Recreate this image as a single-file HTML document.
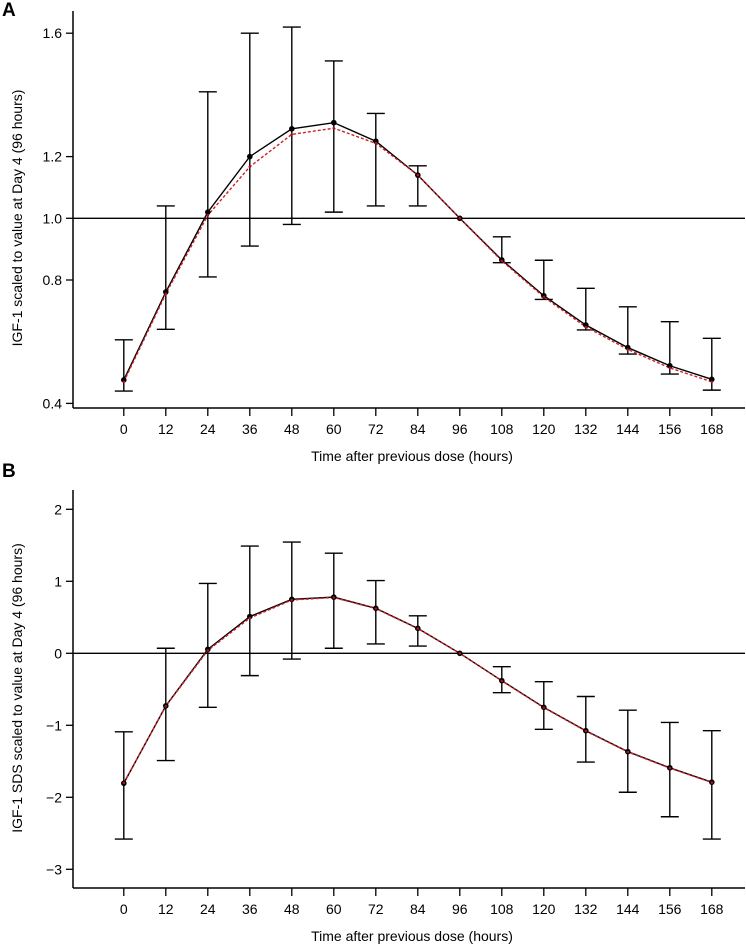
<!DOCTYPE html>
<html><head><meta charset="utf-8">
<style>
html,body{margin:0;padding:0;background:#fff;}
svg{display:block;font-family:"Liberation Sans",Arial,sans-serif;}
</style></head>
<body>
<svg id="chart" width="746" height="949" viewBox="0 0 746 949" xmlns="http://www.w3.org/2000/svg"></svg>
<script>
const hours = [0,12,24,36,48,60,72,84,96,108,120,132,144,156,168];
const aTicks = [0.4,0.8,1.0,1.2,1.6];
const aTickLabels = ["0.4","0.8","1.0","1.2","1.6"];
const aMean = [0.476,0.761,1.02,1.20,1.29,1.31,1.25,1.14,1.0,0.865,0.749,0.654,0.581,0.522,0.478];
const aUpper = [0.606,1.04,1.41,1.60,1.62,1.51,1.34,1.17,null,0.94,0.864,0.773,0.713,0.665,0.611];
const aLower = [0.44,0.64,0.81,0.91,0.98,1.02,1.04,1.04,null,0.856,0.737,0.638,0.56,0.495,0.443];
const aModel = [0.47,0.755,1.01,1.167,1.272,1.292,1.243,1.14,1.0,0.862,0.745,0.648,0.575,0.515,0.47];
const bTicks = [-3,-2,-1,0,1,2];
const bTickLabels = ["\u22123","\u22122","\u22121","0","1","2"];
const bMean = [-1.805,-0.73,0.055,0.51,0.75,0.78,0.625,0.347,0,-0.38,-0.75,-1.075,-1.366,-1.59,-1.79];
const bUpper = [-1.09,0.07,0.97,1.49,1.545,1.39,1.01,0.52,null,-0.186,-0.394,-0.60,-0.79,-0.96,-1.075];
const bLower = [-2.58,-1.49,-0.75,-0.31,-0.08,0.07,0.13,0.10,null,-0.547,-1.056,-1.51,-1.93,-2.27,-2.58];
const bModel = [-1.8,-0.735,0.04,0.49,0.74,0.775,0.62,0.343,0,-0.383,-0.755,-1.08,-1.37,-1.595,-1.795];

const NS="http://www.w3.org/2000/svg";
const svg=document.getElementById('chart');
function mk(tag,attrs,parent){const e=document.createElementNS(NS,tag);for(const k in attrs)e.setAttribute(k,attrs[k]);(parent||svg).appendChild(e);return e;}
const xScale=h=>123.8+h*3.5;

function panel(cfg){
  const g=mk('g',{});
  
  
  const y=cfg.y;
  const ya=mk('line',{x1:73,y1:cfg.axTop,x2:73,y2:cfg.axBot,stroke:'#000','stroke-width':1.5},g);
  
  
  const xa=mk('line',{x1:73,y1:cfg.axBot,x2:745,y2:cfg.axBot,stroke:'#000','stroke-width':1.5},g);
  
  
  const ref=mk('line',{x1:73,y1:y(cfg.refVal),x2:745,y2:y(cfg.refVal),stroke:'#000','stroke-width':1.3},g);
  
  
  cfg.ticks.forEach((t,i)=>{
    mk('line',{x1:66,y1:y(t),x2:73,y2:y(t),stroke:'#000','stroke-width':1.3},g);
    const tx=mk('text',{x:62,y:y(t)+5,'text-anchor':'end','font-size':14},g);
    tx.textContent=cfg.tickLabels[i];
    
    
  });
  hours.forEach(h=>{
    mk('line',{x1:xScale(h),y1:cfg.axBot,x2:xScale(h),y2:cfg.axBot+8,stroke:'#000','stroke-width':1.3},g);
    const tx=mk('text',{x:xScale(h),y:cfg.axBot+26,'text-anchor':'middle','font-size':14},g);
    tx.textContent=String(h);
    
    
  });
  const xt=mk('text',{x:412,y:cfg.axBot+53,'text-anchor':'middle','font-size':14},g);
  xt.textContent='Time after previous dose (hours)';
  
  
  const ytl=mk('text',{x:0,y:0,'text-anchor':'middle','font-size':14,transform:`translate(22,${cfg.titleY}) rotate(-90)`},g);
  ytl.textContent=cfg.yTitle;
  
  
  const pl=mk('text',{x:2,y:cfg.letterY,'font-size':19,'font-weight':'bold'},g);
  pl.textContent=cfg.letter;
  
  
  hours.forEach((h,i)=>{
    if(cfg.upper[i]==null)return;
    const x=xScale(h);
    const eg=mk('g',{stroke:'#000','stroke-width':1.4},g);
    
    
    mk('line',{x1:x,y1:y(cfg.upper[i]),x2:x,y2:y(cfg.lower[i])},eg);
    mk('line',{x1:x-9,y1:y(cfg.upper[i]),x2:x+9,y2:y(cfg.upper[i])},eg);
    mk('line',{x1:x-9,y1:y(cfg.lower[i]),x2:x+9,y2:y(cfg.lower[i])},eg);
  });
  const mline=mk('polyline',{points:hours.map((h,i)=>xScale(h)+','+y(cfg.mean[i])).join(' '),fill:'none',stroke:'#000','stroke-width':1.4},g);
  
  
  const rline=mk('polyline',{points:hours.map((h,i)=>xScale(h)+','+y(cfg.model[i])).join(' '),fill:'none',stroke:'#d0202a','stroke-width':1.4,'stroke-dasharray':'3,2'},g);
  
  
  hours.forEach((h,i)=>{
    const c=mk('circle',{cx:xScale(h),cy:y(cfg.mean[i]),r:2.8,fill:'#000'},g);
    
    
    const r=mk('circle',{cx:xScale(h),cy:y(cfg.model[i]),r:1.3,fill:'#b01020'},g);
    
    
  });
}
panel({name:'panel-a',y:v=>218.3-(v-1)*308.5,axTop:11,axBot:408,refVal:1,ticks:aTicks,tickLabels:aTickLabels,
  mean:aMean,upper:aUpper,lower:aLower,model:aModel,yTitle:'IGF-1 scaled to value at Day 4 (96 hours)',titleY:218,letter:'A',letterY:16});
panel({name:'panel-b',y:v=>653.3-v*72,axTop:490,axBot:888,refVal:0,ticks:bTicks,tickLabels:bTickLabels,
  mean:bMean,upper:bUpper,lower:bLower,model:bModel,yTitle:'IGF-1 SDS scaled to value at Day 4 (96 hours)',titleY:688,letter:'B',letterY:477});
</script>
</body></html>
